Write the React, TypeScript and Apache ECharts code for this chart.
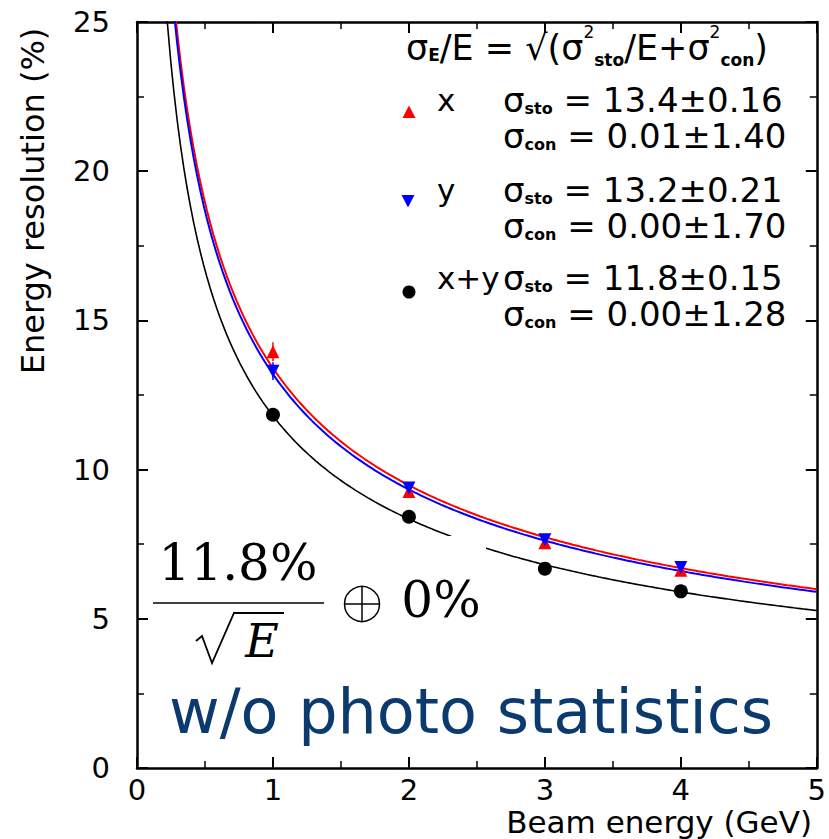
import React, { useEffect, useRef } from 'react';
import * as echarts from 'echarts';

// ---- measured data (Beam energy in GeV, resolution in %) ----
const energies = [1, 2, 3, 4];
const resX = [13.95, 9.27, 7.55, 6.63];
const errX = [0.32, 0.12, 0.1, 0.1];
const resY = [13.3, 9.38, 7.65, 6.72];
const errY = [0.3, 0.12, 0.1, 0.1];
const resXY = [11.84, 8.42, 6.68, 5.92];
const errXY = [0.1, 0.08, 0.07, 0.06];

// ---- fit results: sigma_E/E = sqrt(sto^2/E + con^2) ----
const fitNames = ['x', 'y', 'x+y'];
const fitSto = [13.4, 13.2, 11.8];
const fitStoErr = ['0.16', '0.21', '0.15'];
const fitCon = [0.01, 0.0, 0.0];
const fitConErr = ['1.40', '1.70', '1.28'];
const fitColors = ['#ff0000', '#0000ff', '#000000'];

// energy grid on which the fitted functions are drawn
const curveEnergies: number[] = [];
for (let i = 0; i <= 200; i++) curveEnergies.push(0.15 + i * 0.02425);

const FONT = 'DejaVu Sans';
const SERIF = 'DejaVu Serif';

function fitCurve(k: number): number[][] {
  return curveEnergies.map((e) => [e, Math.sqrt((fitSto[k] * fitSto[k]) / e + fitCon[k] * fitCon[k])]);
}

function errorSeries(vals: number[], errs: number[], color: string) {
  return {
    type: 'custom',
    xAxisIndex: 0,
    yAxisIndex: 0,
    silent: true,
    z: 3,
    data: energies.map((e, i) => [e, vals[i], errs[i]]),
    renderItem: (params: any, api: any) => {
      const x = api.value(0);
      const y = api.value(1);
      const d = api.value(2);
      const p1 = api.coord([x, y - d]);
      const p2 = api.coord([x, y + d]);
      return {
        type: 'line',
        shape: { x1: p1[0], y1: p1[1], x2: p2[0], y2: p2[1] },
        style: { stroke: color, lineWidth: 1.5 },
      };
    },
  };
}

const richBase = {
  m: { fontSize: 34, fontFamily: FONT, lineHeight: 36, verticalAlign: 'middle', fill: '#000' },
  sub: { fontSize: 16, fontFamily: FONT, fontWeight: 'bold', lineHeight: 16, verticalAlign: 'middle', padding: [17, 0, 0, 0], fill: '#000' },
};

const richHead = {
  m: { fontSize: 35, fontFamily: FONT, lineHeight: 34, verticalAlign: 'middle', fill: '#000' },
  subE: { fontSize: 17, fontFamily: FONT, fontWeight: 'bold', lineHeight: 18, verticalAlign: 'middle', padding: [14, 0, 0, 0], fill: '#000' },
  sub: { fontSize: 17, fontFamily: FONT, fontWeight: 'bold', lineHeight: 18, verticalAlign: 'middle', padding: [24, 0, 0, 0], fill: '#000' },
  sup: { fontSize: 17, fontFamily: FONT, lineHeight: 18, verticalAlign: 'middle', padding: [0, 0, 32, 0], fill: '#000' },
};

const rowY = [100, 190, 278];
const rowGap = 36;

export default function App() {
  const ref = useRef<HTMLDivElement>(null);

  useEffect(() => {
    document.body.style.margin = '0';
    const chart = echarts.init(ref.current!, null, { renderer: 'svg' });

    const axisCommon = {
      type: 'value',
      axisLine: { show: true, onZero: false, lineStyle: { color: '#000', width: 2.5 } },
      axisTick: { show: true, inside: true, length: 11, lineStyle: { color: '#000', width: 2 } },
      minorTick: { show: true, splitNumber: 2, length: 7, lineStyle: { color: '#000', width: 1.5 } },
      splitLine: { show: false },
      minorSplitLine: { show: false },
    };

    const legendGraphics: any[] = [];
    // header formula
    legendGraphics.push({
      type: 'text',
      x: 406,
      y: 48,
      z: 60,
      style: {
        text: '{m|σ}{subE|E}{m|/E = √(σ}{sup|2}{sub|sto}{m|/E+σ}{sup|2}{sub|con}{m|)}',
        align: 'left',
        verticalAlign: 'middle',
        rich: richHead,
      },
    });
    fitNames.forEach((name, k) => {
      legendGraphics.push({
        type: 'text',
        x: 437,
        y: rowY[k],
        z: 60,
        style: { text: name, fontSize: 31, fontFamily: FONT, fill: '#000', align: 'left', verticalAlign: 'middle', lineHeight: 32 },
      });
      legendGraphics.push({
        type: 'text',
        x: 503,
        y: rowY[k] + rowGap / 2,
        z: 60,
        style: {
          text:
            `{m|σ}{sub|sto}{m| = ${fitSto[k].toFixed(1)}±${fitStoErr[k]}}\n` +
            `{m|σ}{sub|con}{m| = ${fitCon[k].toFixed(2)}±${fitConErr[k]}}`,
          align: 'left',
          verticalAlign: 'middle',
          rich: richBase,
        },
      });
    });
    // legend markers
    legendGraphics.push({
      type: 'polygon',
      z: 60,
      shape: { points: [[409, 105.5], [415.5, 118], [402.5, 118]] },
      style: { fill: fitColors[0] },
    });
    legendGraphics.push({
      type: 'polygon',
      z: 60,
      shape: { points: [[401.5, 195], [414.5, 195], [408, 207.5]] },
      style: { fill: fitColors[1] },
    });
    legendGraphics.push({
      type: 'circle',
      z: 60,
      shape: { cx: 409, cy: 292, r: 6.5 },
      style: { fill: fitColors[2] },
    });

    const option: any = {
      animation: false,
      backgroundColor: '#fff',
      grid: { left: 137, top: 22, width: 680, height: 746, containLabel: false },
      xAxis: [
        {
          ...axisCommon,
          min: 0,
          max: 5,
          interval: 1,
          position: 'bottom',
          axisLabel: { show: true, fontSize: 29, fontFamily: FONT, color: '#000', margin: 9, lineHeight: 26 },
        },
        {
          ...axisCommon,
          min: 0,
          max: 5,
          interval: 1,
          position: 'top',
          axisLabel: { show: false },
        },
      ],
      yAxis: [
        {
          ...axisCommon,
          min: 0,
          max: 25,
          interval: 5,
          position: 'left',
          axisLabel: { show: true, fontSize: 29, fontFamily: FONT, color: '#000', margin: 27 },
        },
        {
          ...axisCommon,
          min: 0,
          max: 25,
          interval: 5,
          position: 'right',
          axisLabel: { show: false },
        },
      ],
      series: [
        ...[0, 1, 2].map((k) => ({
          type: 'line',
          xAxisIndex: 0,
          yAxisIndex: 0,
          data: fitCurve(k),
          showSymbol: false,
          symbol: 'none',
          silent: true,
          clip: true,
          z: 2,
          lineStyle: { color: fitColors[k], width: k === 2 ? 1.6 : 2 },
        })),
        errorSeries(resX, errX, fitColors[0]),
        errorSeries(resY, errY, fitColors[1]),
        errorSeries(resXY, errXY, fitColors[2]),
        {
          type: 'scatter',
          xAxisIndex: 0,
          yAxisIndex: 0,
          symbol: 'triangle',
          symbolSize: 13,
          z: 4,
          itemStyle: { color: fitColors[0], opacity: 1 },
          data: energies.map((e, i) => [e, resX[i]]),
        },
        {
          type: 'scatter',
          xAxisIndex: 0,
          yAxisIndex: 0,
          symbol: 'triangle',
          symbolRotate: 180,
          symbolSize: 13,
          z: 5,
          itemStyle: { color: fitColors[1], opacity: 1 },
          data: energies.map((e, i) => [e, resY[i]]),
        },
        {
          type: 'scatter',
          xAxisIndex: 0,
          yAxisIndex: 0,
          symbol: 'circle',
          symbolSize: 14,
          z: 5,
          itemStyle: { color: fitColors[2], opacity: 1 },
          data: energies.map((e, i) => [e, resXY[i]]),
        },
      ],
      graphic: [
        // axis titles
        {
          type: 'text',
          x: 812,
          y: 822,
          z: 60,
          style: { text: 'Beam energy (GeV)', fontSize: 31, fontFamily: FONT, fill: '#000', align: 'right', verticalAlign: 'middle', lineHeight: 28 },
        },
        {
          type: 'text',
          x: 33,
          y: 201,
          rotation: Math.PI / 2,
          z: 60,
          style: { text: 'Energy resolution (%)', fontSize: 32, fontFamily: FONT, fill: '#000', align: 'center', verticalAlign: 'middle' },
        },
        ...legendGraphics,
        // resolution formula box
        { type: 'rect', z: 50, shape: { x: 150, y: 536, width: 336, height: 134 }, style: { fill: '#fff' } },
        {
          type: 'text',
          x: 238,
          y: 563,
          z: 51,
          style: { text: '11.8%', fontSize: 50, fontFamily: SERIF, fill: '#000', align: 'center', verticalAlign: 'middle' },
        },
        { type: 'line', z: 51, shape: { x1: 153, y1: 603, x2: 324, y2: 603 }, style: { stroke: '#000', lineWidth: 1.6 } },
        {
          type: 'polyline',
          z: 51,
          shape: { points: [[196, 641], [202, 636], [212, 663], [234, 613], [284, 613]] },
          style: { stroke: '#000', lineWidth: 1.8, fill: null },
        },
        {
          type: 'text',
          x: 262,
          y: 641,
          z: 51,
          style: { text: 'E', fontSize: 46, fontStyle: 'italic', fontFamily: SERIF, fill: '#000', align: 'center', verticalAlign: 'middle' },
        },
        { type: 'circle', z: 51, shape: { cx: 362, cy: 604, r: 17.5 }, style: { stroke: '#000', lineWidth: 1.5, fill: 'none' } },
        { type: 'line', z: 51, shape: { x1: 344.5, y1: 604, x2: 379.5, y2: 604 }, style: { stroke: '#000', lineWidth: 1.5 } },
        { type: 'line', z: 51, shape: { x1: 362, y1: 586.5, x2: 362, y2: 621.5 }, style: { stroke: '#000', lineWidth: 1.5 } },
        {
          type: 'text',
          x: 441,
          y: 600,
          z: 51,
          style: { text: '0%', fontSize: 50, fontFamily: SERIF, fill: '#000', align: 'center', verticalAlign: 'middle' },
        },
        {
          type: 'text',
          x: 471,
          y: 711,
          z: 51,
          style: { text: 'w/o photo statistics', fontSize: 62, fontFamily: FONT, fill: '#0b3a6e', align: 'center', verticalAlign: 'middle' },
        },
      ],
    };

    chart.setOption(option);
    return () => {
      chart.dispose();
    };
  }, []);

  return <div ref={ref} style={{ position: 'absolute', left: 0, top: 0, width: 829, height: 839 }} />;
}
